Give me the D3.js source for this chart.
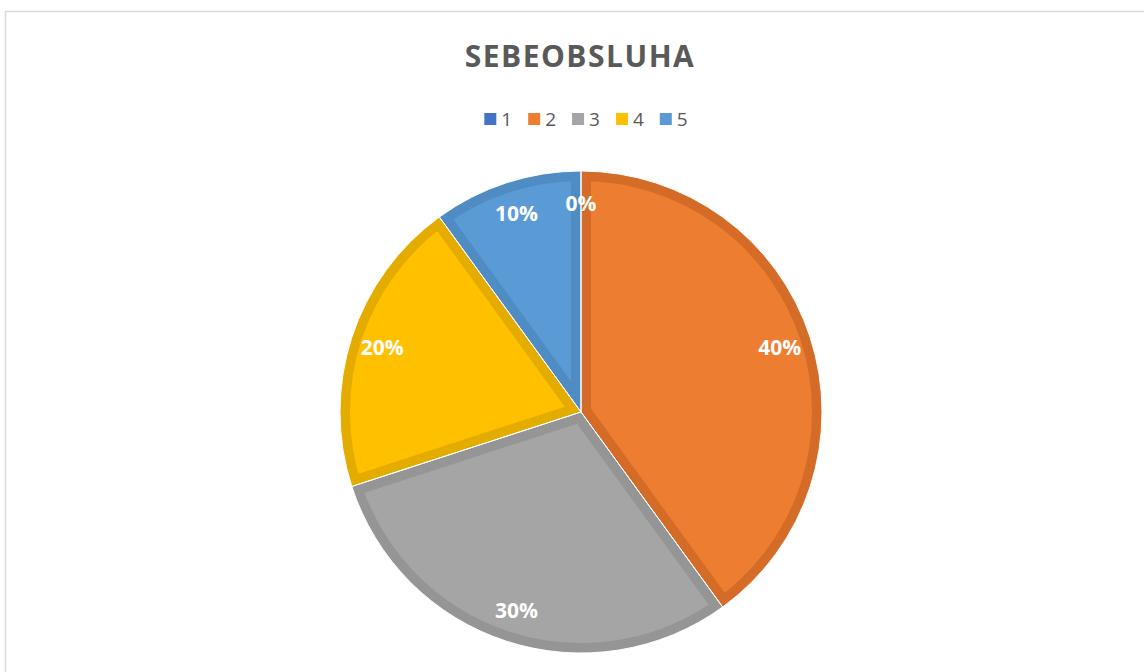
<!DOCTYPE html>
<html>
<head>
<meta charset="utf-8">
<script src="https://cdn.jsdelivr.net/npm/d3@7"></script>
<style>
  body { margin: 0; background: #fff; }
  svg { display: block; font-family: "Open Sans", "Noto Sans", sans-serif; }
</style>
</head>
<body>
<div id="chart"></div>
<script>
// chart data
const title = "SEBEOBSLUHA";
const categories = ["1", "2", "3", "4", "5"];
const values = [0, 4, 3, 2, 1];
const fillColors = ["#4472C4", "#ED7D31", "#A5A5A5", "#FFC000", "#5B9BD5"];
const edgeColors = ["#3B64AD", "#D46C27", "#959595", "#E5AC00", "#4F8CC4"];

const WIDTH = 1144, HEIGHT = 672;
const CX = 581, CY = 412, R = 241;

const svg = d3.select("#chart").append("svg")
    .attr("width", WIDTH)
    .attr("height", HEIGHT);

// chart area frame
svg.append("rect")
    .attr("x", 5.5).attr("y", 11.5)
    .attr("width", 1160).attr("height", 700)
    .attr("fill", "none")
    .attr("stroke", "#d9d9d9")
    .attr("stroke-width", 1.5);

// title
svg.append("text")
    .attr("x", 580)
    .attr("y", 67)
    .attr("text-anchor", "middle")
    .attr("font-size", "30px")
    .attr("font-weight", 700)
    .attr("letter-spacing", "1.5px")
    .attr("fill", "#595959")
    .text(title);

// legend
const legend = svg.append("g");
let lx = 0;
categories.forEach((c, i) => {
    const item = legend.append("g").attr("transform", `translate(${lx},0)`);
    item.append("rect")
        .attr("x", 0).attr("y", -6)
        .attr("width", 12).attr("height", 12)
        .attr("fill", fillColors[i]);
    const t = item.append("text")
        .attr("x", 17)
        .attr("y", 7)
        .attr("font-size", "19px")
        .attr("fill", "#595959")
        .text(c);
    lx += 17 + t.node().getComputedTextLength() + 16;
});
const legendW = lx - 16;
legend.attr("transform", `translate(${586 - legendW / 2},119)`);

// pie
const pie = d3.pie().sort(null).value(d => d.value);
const arcs = pie(categories.map((c, i) => ({ cat: c, value: values[i], i })));
const arc = d3.arc().innerRadius(0).outerRadius(R);
const labelArc = d3.arc().innerRadius(209).outerRadius(209);

const g = svg.append("g").attr("transform", `translate(${CX},${CY})`);
const defs = svg.append("defs");

arcs.forEach((a, k) => {
    if (a.endAngle - a.startAngle <= 0) return;
    const id = "clip" + k;
    defs.append("clipPath").attr("id", id)
        .append("path").attr("d", arc(a));
    g.append("path")
        .attr("d", arc(a))
        .attr("fill", fillColors[a.data.i])
        .attr("stroke", edgeColors[a.data.i])
        .attr("stroke-width", 20)
        .attr("stroke-linejoin", "miter")
        .attr("clip-path", `url(#${id})`);
});
// thin white separators between slices
g.selectAll("path.sep")
    .data(arcs.filter(a => a.endAngle > a.startAngle))
    .join("path")
    .attr("class", "sep")
    .attr("d", arc)
    .attr("fill", "none")
    .attr("stroke", "#fff")
    .attr("stroke-width", 1);

// data labels
const total = d3.sum(values);
g.selectAll("text.lbl")
    .data(arcs)
    .join("text")
    .attr("class", "lbl")
    .attr("transform", d => `translate(${labelArc.centroid(d)})`)
    .attr("text-anchor", "middle")
    .attr("dy", "0.36em")
    .attr("font-size", "21px")
    .attr("font-weight", 700)
    .attr("fill", "#fff")
    .text(d => Math.round(d.data.value / total * 100) + "%");
</script>
</body>
</html>
